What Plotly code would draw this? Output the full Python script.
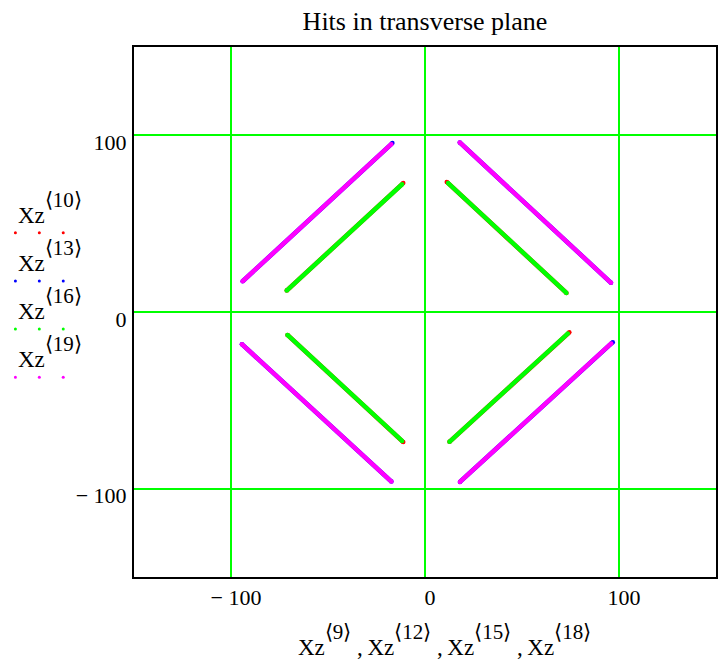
import plotly.graph_objects as go

# Hit coordinates (x from Xz<9>,12,15,18 ; y from Xz<10>,13,16,19), one segment per quadrant
x_10 = [-71.3, -11.2, None, 11.2, 72.9, None, -70.9, -11.2, None, 12.6, 74.4]
y_10 = [12.1, 73.0, None, 73.6, 10.8, None, -13.0, -73.6, None, -73.5, -11.5]

x_13 = [-94.0, -16.8, None, 17.9, 95.9, None, -94.4, -17.3, None, 18.0, 96.8]
y_13 = [17.4, 95.6, None, 96.0, 16.5, None, -18.2, -96.0, None, -96.2, -17.1]

x_16 = [-71.3, -11.8, None, 11.9, 72.9, None, -70.9, -11.8, None, 12.6, 73.6]
y_16 = [12.1, 72.3, None, 73.0, 10.8, None, -13.0, -73.0, None, -73.5, -12.2]

x_19 = [-94.0, -17.4, None, 17.9, 95.9, None, -94.4, -17.3, None, 18.0, 96.0]
y_19 = [17.4, 95.0, None, 96.0, 16.5, None, -18.2, -96.0, None, -96.2, -17.8]

series = [
    ("10", x_10, y_10, "#ff0000"),
    ("13", x_13, y_13, "#0000ff"),
    ("16", x_16, y_16, "#00ff00"),
    ("19", x_19, y_19, "#ff00ff"),
]
x_title_cols = ["9", "12", "15", "18"]

tick_vals = [-100, 0, 100]
tick_text = ["\u2212 100", "0", "100"]

FONT = "Liberation Serif, Times New Roman, serif"

fig = go.Figure()
for name, xs, ys, col in series:
    fig.add_trace(go.Scatter(
        x=xs, y=ys, mode="lines+markers", name=name,
        line=dict(color=col, width=4.5),
        marker=dict(color=col, size=4.5),
        showlegend=False, hoverinfo="skip",
    ))

# plot area geometry (pixels) for placing the side legend
L, R, T, B = 134, 718, 47, 577
W, H = R - L, B - T


def px2paper(px, py):
    return (px - L) / W, (B - py) / H


def col_label(idx, size):
    # matrix column superscript, raised above the cap height at full size
    return ("Xz<sup><sup><span style='font-size:%dpx'>\u27e8%s\u27e9</span></sup></sup>"
            % (size, idx))


annotations = []
shapes = []
for i, (name, xs, ys, col) in enumerate(series):
    dot_y = 232.7 + 48.2 * i
    for dx in (15, 39, 63):
        xp, yp = px2paper(dx, dot_y)
        shapes.append(dict(
            type="circle", xref="paper", yref="paper",
            xsizemode="pixel", ysizemode="pixel",
            xanchor=xp, yanchor=yp, x0=-1.5, x1=1.5, y0=-1.5, y1=1.5,
            fillcolor=col, line=dict(width=0), layer="above",
        ))
    xp, yp = px2paper(16, dot_y - 3)
    annotations.append(dict(
        x=xp, y=yp, xref="paper", yref="paper", xanchor="left", yanchor="bottom",
        text=col_label(name, 21), showarrow=False,
        font=dict(family=FONT, size=23, color="black"),
    ))

xp, yp = px2paper(446, 662)
annotations.append(dict(
    x=xp, y=yp, xref="paper", yref="paper", xanchor="center", yanchor="bottom",
    text=" ,\u2009".join(col_label(c, 21) for c in x_title_cols),
    showarrow=False, font=dict(family=FONT, size=23, color="black"),
))

axis_common = dict(
    tickvals=tick_vals, ticktext=tick_text,
    showgrid=True, gridcolor="#00ff00", gridwidth=1.5,
    zeroline=False, showline=True, mirror=True,
    linecolor="black", linewidth=2, ticks="",
    tickfont=dict(family=FONT, size=22, color="black"),
    range=[-150, 150], fixedrange=True,
)

fig.update_layout(
    width=720, height=662,
    margin=dict(l=L, r=720 - R, t=T, b=662 - B),
    paper_bgcolor="white", plot_bgcolor="white",
    title=dict(text="Hits in transverse plane", x=425 / 720, xanchor="center",
               y=1 - 21 / 662, yanchor="middle",
               font=dict(family=FONT, size=26, color="black")),
    xaxis=dict(**axis_common, ticklabelstandoff=0, ticklabelshift=5),
    yaxis=dict(**axis_common, ticklabelstandoff=1, ticklabelshift=7),
    annotations=annotations,
    shapes=shapes,
)

fig.write_html("out.html")
